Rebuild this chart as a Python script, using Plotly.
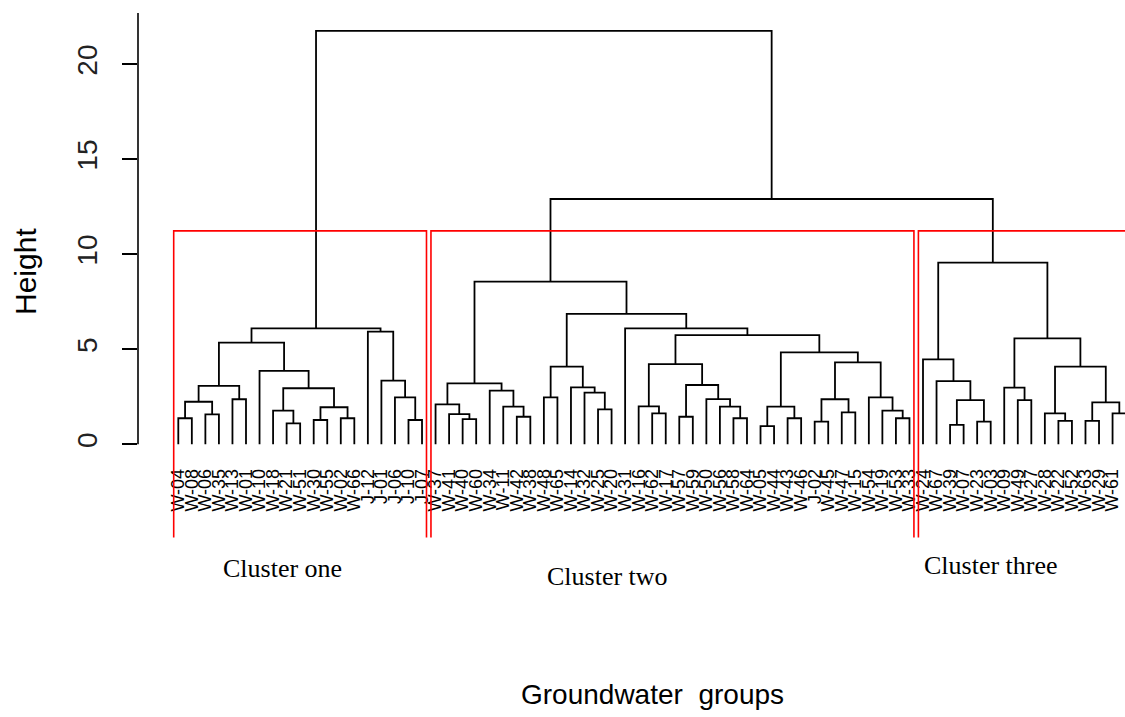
import plotly.graph_objects as go

# ---------------- data ----------------
leaf_labels = [
    # cluster one
    "W-04", "W-08", "W-06", "W-35", "W-13", "W-01", "W-10", "W-18", "W-21", "W-51",
    "W-30", "W-55", "W-02", "W-66", "J-12", "J-01", "J-06", "J-10", "J-07",
    # cluster two
    "W-37", "W-41", "W-40", "W-60", "W-34", "W-11", "W-42", "W-38", "W-48", "W-65",
    "W-14", "W-32", "W-25", "W-20", "W-31", "W-16", "W-62", "W-17", "W-57", "W-59",
    "W-50", "W-56", "W-58", "W-64", "W-05", "W-44", "W-43", "W-46", "J-02", "W-45",
    "W-47", "W-15", "W-54", "W-19", "W-53", "W-33",
    # cluster three
    "W-24", "W-67", "W-39", "W-07", "W-23", "W-03", "W-09", "W-49", "W-27", "W-28",
    "W-22", "W-52", "W-63", "W-29", "W-61", "W-68",
]

# hclust-style merges: negative = leaf position (1-based), positive = earlier merge step
merge_left = [
    -1, -3, 1, -5, 3, -9, -8, -11, -13, 8, 7, -7, 5, -18, -17, -16, -15, 13,
    -22, -21, -20, -26, -25, -24, 21, -28, -32, -31, -30, 26, -36, -35, -38, -42,
    -41, -40, 33, 32, -44, -46, 39, -48, -50, 42, -54, -53, -52, 44, 41, 38, -34,
    30, 25,
    -58, -60, 54, -57, -56, -63, -62, -66, -65, -68, -70, 63, 62, 60, 58,
    53, 18,
]
merge_right = [
    -2, -4, 2, -6, 4, -10, 6, -12, -14, 9, 10, 11, 12, -19, 14, 15, 16, 17,
    -23, 19, 20, -27, 22, 23, 24, -29, -33, 27, 28, 29, -37, 31, -39, -43,
    34, 35, 36, 37, -45, -47, 40, -49, -51, 43, -55, 45, 46, 47, 48, 49, 50,
    51, 52,
    -59, -61, 55, 56, 57, -64, 59, -67, 61, -69, -71, 64, 65, 66, 67,
    68, 69,
]
merge_height = [
    1.37, 1.58, 2.24, 2.37, 3.07, 1.10, 1.77, 1.28, 1.37, 1.95, 2.95, 3.86, 5.35,
    1.28, 2.47, 3.35, 5.93, 6.10,
    1.33, 1.59, 2.10, 1.45, 1.98, 2.82, 3.21, 2.47, 1.84, 2.72, 3.00, 4.09, 1.63,
    2.00, 1.45, 1.37, 1.98, 2.38, 3.12, 4.22, 0.96, 1.37, 1.98, 1.19, 1.68, 2.37,
    1.37, 1.77, 2.47, 4.31, 4.84, 5.75, 6.10, 6.86, 8.56,
    1.02, 1.19, 2.33, 3.33, 4.47, 2.33, 2.98, 1.23, 1.63, 1.23, 1.63, 2.21, 4.09,
    5.58, 9.56,
    12.91, 21.76,
]

cluster_first_leaf = [1, 20, 56]
cluster_last_leaf = [19, 55, 71]
cluster_names = ["Cluster one", "Cluster two", "Cluster three"]

y_ticks = [0, 5, 10, 15, 20]

# ---------------- dendrogram segments ----------------
xs, ys = [], []
node = {}
for k, (a, b, h) in enumerate(zip(merge_left, merge_right, merge_height), start=1):
    xa, ha = ((-a), 0.0) if a < 0 else node[a]
    xb, hb = ((-b), 0.0) if b < 0 else node[b]
    xs += [xa, xa, xb, xb, None]
    ys += [ha, h, h, hb, None]
    node[k] = ((xa + xb) / 2.0, h)

fig = go.Figure()
fig.add_trace(go.Scatter(x=xs, y=ys, mode="lines",
                         line=dict(color="black", width=1.8),
                         hoverinfo="skip", showlegend=False))

# ---------------- layout geometry ----------------
W, H = 1125, 717
ML = 138
leaf1_px = 178.3
step_px = 13.54
x0 = 1 - (leaf1_px - ML) / step_px
x1 = x0 + (W - ML) / step_px
zero_px = 444.3
unit_px = 19.0
yhi = zero_px / unit_px
ylo = yhi - H / unit_px

# red cluster rectangles (rect.hclust style)
sorted_h = sorted(merge_height, reverse=True)
cut_h = (sorted_h[1] + sorted_h[2]) / 2.0
rect_bottom = -4.9
shapes = []
for f, l in zip(cluster_first_leaf, cluster_last_leaf):
    left = f - 0.34
    right = l + 0.33
    shapes.append(dict(type="path", xref="x", yref="y",
                       path=f"M {left},{rect_bottom} L {left},{cut_h} L {right},{cut_h} L {right},{rect_bottom}",
                       line=dict(color="#ff0000", width=1.6), layer="above"))
# y axis line (from 0 to top)
shapes.append(dict(type="line", xref="paper", yref="y", x0=0, x1=0, y0=0, y1=22.7,
                   line=dict(color="black", width=1.6)))

annotations = []
cluster_label_pos = [(282, 568), (607, 576), (991, 565)]
for name, (px, py) in zip(cluster_names, cluster_label_pos):
    annotations.append(dict(text=name, xref="paper", yref="paper",
                            x=(px - ML) / (W - ML), y=1 - py / H,
                            showarrow=False, xanchor="center", yanchor="middle",
                            font=dict(family="Liberation Serif, Times New Roman, serif",
                                      size=26, color="black")))
annotations.append(dict(text="Groundwater  groups", xref="paper", yref="paper",
                        x=(652 - ML) / (W - ML), y=1 - 694 / H,
                        showarrow=False, xanchor="center", yanchor="middle",
                        font=dict(family="Liberation Sans Narrow, Arial Narrow, Liberation Sans, Arial",
                                  size=28, color="black")))
annotations.append(dict(text="Height", xref="paper", yref="paper",
                        x=(25 - ML) / (W - ML), y=1 - 272 / H, textangle=-90,
                        showarrow=False, xanchor="center", yanchor="middle",
                        font=dict(family="Liberation Sans, Arial", size=30, color="black")))

fig.update_layout(
    width=W, height=H,
    margin=dict(l=ML, r=0, t=0, b=0),
    paper_bgcolor="white", plot_bgcolor="white",
    showlegend=False,
    xaxis=dict(range=[x0, x1], anchor="free", position=1 - zero_px / H,
               tickmode="array", tickvals=list(range(1, len(leaf_labels) + 1)),
               ticktext=leaf_labels, tickangle=-90, ticks="",
               ticklabelstandoff=20,
               tickfont=dict(family="Liberation Sans, Arial", size=18, color="black"),
               showgrid=False, zeroline=False, showline=False),
    yaxis=dict(range=[ylo, yhi], tickmode="array", tickvals=y_ticks,
               ticks="outside", ticklen=15, tickwidth=1.6, tickcolor="black",
               tickangle=-90, ticklabelstandoff=14,
               tickfont=dict(family="Liberation Sans, Arial", size=28, color="#222"),
               showgrid=False, zeroline=False, showline=False),
    shapes=shapes,
    annotations=annotations,
)

fig.write_html("out.html")
